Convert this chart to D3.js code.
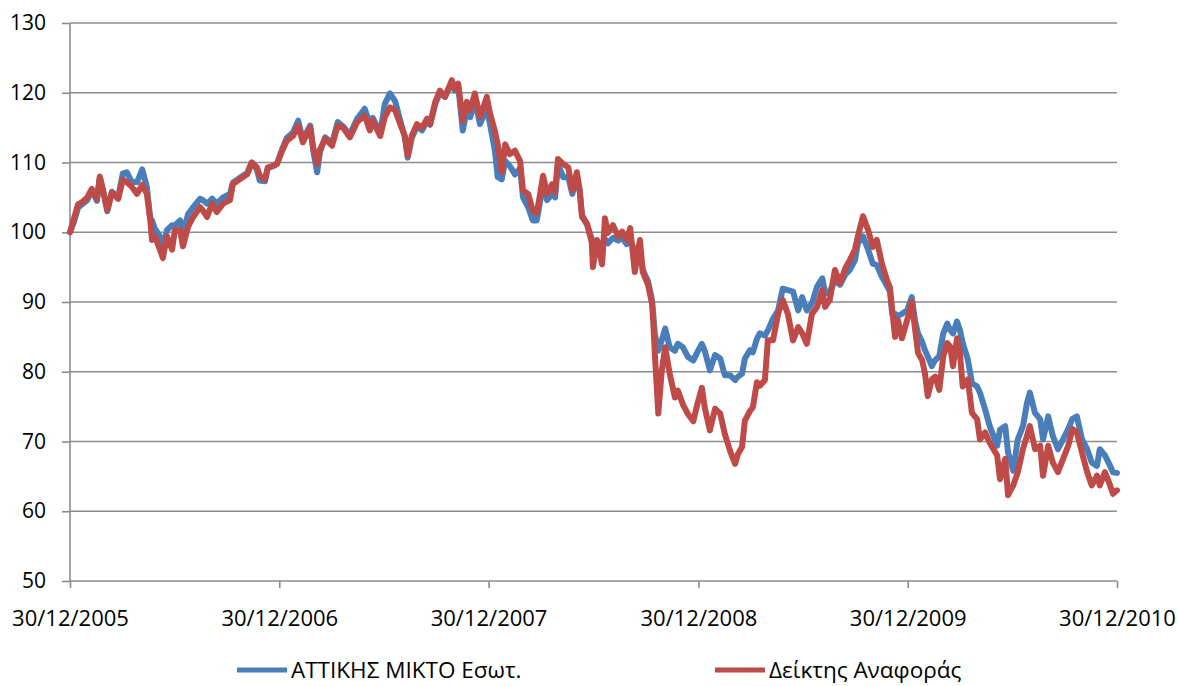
<!DOCTYPE html>
<head>
	<meta charset="utf-8">
	<script src="https://d3js.org/d3.v7.min.js"></script>
	<style>
		body { margin: 0; background: #fff; }
		text { font-family: "Open Sans", "Noto Sans", sans-serif; fill: #000; }
		.grid line { stroke: #8c8c8c; stroke-width: 1.6; }
		.axis path, .axis line { stroke: #8c8c8c; stroke-width: 1.6; }
	</style>
</head>
<body>
	<svg id="chart" width="1178" height="686"></svg>
	<script>

	// days since 30/12/2005 for each reading
	var dayOffsets = [0,7,14,21,30,38,47,52,59,65,73,84,92,99,108,117,126,134,140,143,148,157,162,169,178,183,192,197,206,215,227,232,239,248,256,267,279,284,296,309,317,326,331,340,345,354,361,370,378,389,398,406,419,424,431,436,445,457,467,476,488,501,514,523,528,541,549,558,567,576,584,589,596,605,614,623,628,637,645,654,666,671,677,685,692,698,706,715,727,732,741,746,753,759,767,776,785,790,799,807,814,820,825,832,841,846,851,860,869,876,884,889,893,902,910,912,919,928,933,938,947,956,963,971,977,985,994,999,1008,1015,1017,1020,1026,1032,1038,1046,1055,1060,1069,1078,1087,1094,1102,1107,1116,1125,1134,1142,1151,1160,1165,1172,1177,1186,1191,1198,1203,1212,1217,1226,1235,1243,1252,1261,1270,1277,1285,1294,1303,1312,1317,1325,1334,1343,1352,1360,1369,1374,1383,1392,1400,1407,1416,1425,1430,1434,1439,1444,1451,1460,1468,1474,1479,1486,1491,1496,1503,1509,1516,1523,1530,1535,1540,1547,1552,1557,1566,1573,1582,1587,1596,1604,1617,1622,1631,1636,1645,1653,1662,1669,1674,1683,1692,1697,1706,1714,1723,1732,1741,1748,1756,1765,1774,1782,1791,1796,1805,1814,1819,1826];

	// ΑΤΤΙΚΗΣ ΜΙΚΤΟ Εσωτ.
	var fundValues = [100,101.5,103.5,104,104.6,106,104.5,107.8,105.5,103,105.8,105,108.4,108.6,107.2,107.2,109,106.5,102,101.7,100.5,99.4,97.5,100.3,101,101,101.7,99.8,102.6,103.6,104.8,104.6,104.1,104.8,104.1,105,105.5,107.1,107.8,108.5,110,109,107.4,107.3,109.2,109.5,109.8,111.9,113.5,114.3,116,113.3,115.3,111.8,108.6,111.5,113.6,112.8,115.8,115.2,114,116.3,117.7,115.5,116.4,114.2,118.4,119.9,118.8,116,113.6,110.7,113.5,115.2,114.6,116,115.4,118.4,120,119.4,121.5,120.3,121,114.6,117.5,116.5,119,115.5,117.7,115.7,111.7,107.9,107.6,110.2,109.5,108.3,109.2,105,103.6,101.7,101.7,104.5,107,104.6,105.5,105,109.8,107.9,107.9,105.5,107.9,105.8,102.5,101,99,98.8,98.6,98.4,99,98.4,99.2,98.8,99.2,98.3,98.9,97.3,97,94.6,93,90.3,88.5,85.4,83,84.5,86.2,83.5,83,84,83.5,82.1,81.6,82.8,84,83,80.2,82.4,81.9,79.5,79.5,78.8,79.3,79.7,81.9,83.1,82.8,84.7,85.5,85.2,85.9,87.6,88.8,91.9,91.7,91.5,88.8,90.7,88.8,89.8,92.2,93.4,91.2,91.5,93.1,92.5,93.9,94.6,96,98.4,99.4,97.5,95.5,95.3,93.6,92.3,91.5,88.3,88.3,88,88.3,88.8,90.7,87.2,85.5,84.3,83.1,82.2,80.8,81.7,82.2,85.5,86.9,86,85.5,87.2,86,84.1,81.7,78.4,77.9,77,74.6,72.2,69.4,71.7,72.2,68.4,65.8,70.3,72.2,75.5,77,74.1,73.2,70.3,73.6,70.8,68.9,70.3,71.8,73.2,73.6,70.3,68.9,67,66.5,68.9,68,66.5,65.6,65.5];

	// Δείκτης Αναφοράς
	var benchValues = [100,102,104,104.3,105,106.2,104.8,108,105.5,103.2,105.7,104.8,107.5,107.2,106.5,105.5,106.8,105.5,101.7,98.9,99.4,97.5,96.3,99.4,97.5,100.3,100.3,98,100.8,102.2,103.6,103.1,102.2,104.1,102.9,104.1,104.6,106.9,107.6,108.3,110,109.3,108.1,107.6,109.3,109.5,109.8,111.7,113.1,113.8,115.3,112.9,115,112.2,109.8,111.9,113.4,112.4,115.3,115,113.6,115.8,116.7,114.6,116,113.8,116.5,117.9,117.5,115.5,113.8,111,113.8,115.5,115,116.3,115.5,118.7,120.3,119.4,121.8,120.6,121.3,116,118.7,117.5,119.9,116.5,119.4,117.2,114.5,112.6,108.6,112.6,111.2,111.7,110.2,106,105.5,103.1,102.7,105.5,108.1,105.5,106.9,105.7,110.5,109.8,109.3,106,108.6,106,102.2,101.2,98.5,95,98.9,95.4,102,99.9,101,99.4,100.1,98.9,100.6,94.3,98.9,94.3,92.5,89.8,87.4,82.5,74,80.1,83.5,79.7,76.3,77.3,75.3,73.9,72.9,75.3,77.7,74.9,71.6,74.7,74,71.1,68.7,66.8,68.2,69.2,73,74.4,74.9,78.5,78,78.8,84.5,84.5,88.3,90.3,88.3,84.5,86.4,85.5,84,88.3,89.3,91.7,89.3,90.3,94.6,92.7,94.8,96,97.5,99.4,102.3,100.3,97.9,98.9,95.5,93.1,92.1,88.8,85,87.4,84.8,87.4,90,86,82.7,81.7,79.8,76.5,78.9,79.3,77.4,82.2,84.1,83.6,80.8,84.8,82.7,77.9,78.9,74.1,73.2,70.3,71.3,69.8,68,64.6,67.5,62.3,63.7,65.6,68.9,70.8,72.2,68.9,69.4,65.1,69.4,67,65.6,67.5,69.4,71.8,71.3,68.4,65.6,63.7,65.1,63.7,65.6,63.7,62.5,63];

	var yTicks = [50, 60, 70, 80, 90, 100, 110, 120, 130];
	var xTickLabels = ["30/12/2005", "30/12/2006", "30/12/2007", "30/12/2008", "30/12/2009", "30/12/2010"];
	var seriesNames = ["ΑΤΤΙΚΗΣ ΜΙΚΤΟ Εσωτ.", "Δείκτης Αναφοράς"];
	var colors = ["#4a7ebb", "#be4b48"];

	var svg = d3.select("#chart");
	var margin = {left: 70, top: 23, right: 61, bottom: 105};
	var width = 1178 - margin.left - margin.right,
	  height = 686 - margin.top - margin.bottom;

	var parseDate = d3.timeParse("%d/%m/%Y");
	var start = parseDate(xTickLabels[0]);
	var dates = dayOffsets.map(function(d) { return d3.timeDay.offset(start, d); });
	var tickDates = xTickLabels.map(parseDate);

	var x = d3.scaleTime()
	  .domain([start, tickDates[tickDates.length - 1]])
	  .range([0, width]);
	var y = d3.scaleLinear()
	  .domain([50, 130])
	  .range([height, 0]);

	var g = svg.append("g")
	  .attr("transform", "translate(" + margin.left + "," + margin.top + ")");

	// horizontal gridlines
	g.append("g")
	  .attr("class", "grid")
	  .selectAll("line")
	  .data(yTicks.slice(1))
	  .enter()
	  .append("line")
	  .attr("x1", 0)
	  .attr("x2", width)
	  .attr("y1", function(d) { return y(d); })
	  .attr("y2", function(d) { return y(d); });

	// y axis
	var yAxis = g.append("g")
	  .attr("class", "axis")
	  .call(d3.axisLeft(y).tickValues(yTicks).tickSize(8).tickPadding(16));
	yAxis.select(".domain").attr("d", "M0," + height + "V0");
	yAxis.selectAll("text").style("font-size", "21px");

	// x axis
	var xAxis = g.append("g")
	  .attr("class", "axis")
	  .attr("transform", "translate(0," + height + ")")
	  .call(d3.axisBottom(x).tickValues(tickDates).tickSize(7).tickPadding(22)
	    .tickFormat(d3.timeFormat("%d/%m/%Y")));
	xAxis.select(".domain").attr("d", "M0,0H" + width);
	xAxis.selectAll("text").style("font-size", "22px");

	// lines
	var seriesList = [fundValues, benchValues];
	var line = d3.line()
	  .x(function(d, i) { return x(dates[i]); })
	  .y(function(d) { return y(d); });

	g.selectAll(".series")
	  .data(seriesList)
	  .enter()
	  .append("path")
	  .attr("class", "series")
	  .attr("fill", "none")
	  .attr("stroke", function(d, i) { return colors[i]; })
	  .attr("stroke-width", 6)
	  .attr("stroke-linejoin", "round")
	  .attr("stroke-linecap", "round")
	  .attr("d", line);

	// legend
	var legend = svg.append("g")
	  .attr("transform", "translate(237,670)");
	var items = legend.selectAll("g")
	  .data(seriesNames)
	  .enter()
	  .append("g")
	  .attr("transform", function(d, i) { return "translate(" + (i * 478) + ",0)"; });
	items.append("line")
	  .attr("x1", 0).attr("x2", 50)
	  .attr("stroke", function(d, i) { return colors[i]; })
	  .attr("stroke-width", 5);
	items.append("text")
	  .attr("x", 54)
	  .attr("dy", "0.35em")
	  .style("font-size", "22.5px")
	  .text(function(d) { return d; });

</script>
</body>
</html>
